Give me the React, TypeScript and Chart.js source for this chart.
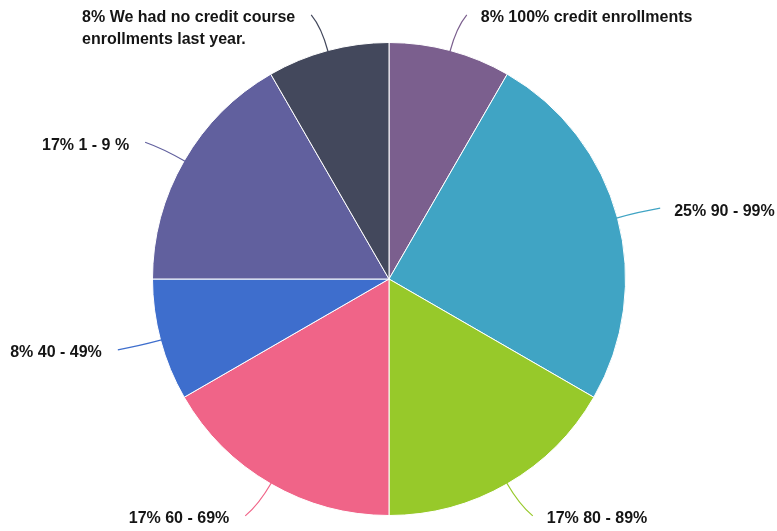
import React, { useEffect, useRef } from "react";
import { Chart, registerables } from "chart.js";

Chart.register(...registerables);

const categories = [
  "100% credit enrollments",
  "90 - 99%",
  "80 - 89%",
  "60 - 69%",
  "40 - 49%",
  "1 - 9 %",
  "We had no credit course enrollments last year.",
];
const counts = [1, 3, 2, 2, 1, 2, 1];
const colors = ["#7B5F8E", "#40A4C4", "#97C92A", "#F06488", "#3E6ECD", "#61609E", "#43485C"];

const FONT = "bold 16px 'Liberation Sans', Arial, sans-serif";
const WRAP_WIDTH = 230;
const LINE_HEIGHT = 22;

function wrap(ctx: CanvasRenderingContext2D, text: string, maxW: number): string[] {
  const words = text.split(" ");
  const lines: string[] = [];
  let cur = "";
  for (const w of words) {
    const test = cur ? cur + " " + w : w;
    if (ctx.measureText(test).width > maxW && cur) {
      lines.push(cur);
      cur = w;
    } else cur = test;
  }
  if (cur) lines.push(cur);
  return lines;
}

const calloutPlugin = {
  id: "callouts",
  afterDraw(chart: any) {
    const ctx: CanvasRenderingContext2D = chart.ctx;
    const meta = chart.getDatasetMeta(0);
    const data: number[] = chart.data.datasets[0].data;
    const total = data.reduce((a, b) => a + b, 0);
    ctx.save();
    ctx.font = FONT;
    meta.data.forEach((arc: any, i: number) => {
      const { x, y, startAngle, endAngle, outerRadius } = arc.getProps(
        ["x", "y", "startAngle", "endAngle", "outerRadius"],
        true
      );
      const mid = (startAngle + endAngle) / 2;
      const ux = Math.cos(mid);
      const uy = Math.sin(mid);
      const side = ux >= 0 ? 1 : -1;
      const sx = x + ux * (outerRadius - 1);
      const sy = y + uy * (outerRadius - 1);
      const cx = x + ux * (outerRadius + 24);
      const cy = y + uy * (outerRadius + 24);
      const ex = x + ux * (outerRadius + 37) + side * 7;
      const ey = y + uy * (outerRadius + 37);
      ctx.strokeStyle = colors[i];
      ctx.lineWidth = 1.2;
      ctx.beginPath();
      ctx.moveTo(sx, sy);
      ctx.quadraticCurveTo(cx, cy, ex, ey);
      ctx.stroke();

      const pct = Math.round((data[i] / total) * 100);
      const text = pct + "% " + chart.data.labels[i];
      const lines = wrap(ctx, text, WRAP_WIDTH);
      const maxW = Math.max(...lines.map((l) => ctx.measureText(l).width));
      const left = side > 0 ? ex + 14 : ex - 16 - maxW;
      ctx.fillStyle = "#151515";
      ctx.textAlign = "left";
      ctx.textBaseline = "middle";
      lines.forEach((l, k) => {
        ctx.fillText(l, left, ey + 3 + k * LINE_HEIGHT);
      });
    });
    ctx.restore();
  },
};

export default function App() {
  const ref = useRef<HTMLCanvasElement>(null);
  useEffect(() => {
    document.body.style.margin = "0";
    const chart = new Chart(ref.current!, {
      type: "pie",
      data: {
        labels: categories,
        datasets: [
          {
            data: counts,
            backgroundColor: colors,
            borderColor: "#ffffff",
            borderWidth: 1,
          },
        ],
      },
      options: {
        animation: false,
        responsive: false,
        maintainAspectRatio: false,
        layout: { padding: { left: 152, right: 151, top: 42, bottom: 15 } },
        plugins: { legend: { display: false }, tooltip: { enabled: false } },
      },
      plugins: [calloutPlugin],
    });
    return () => chart.destroy();
  }, []);
  return (
    <div style={{ width: 777, height: 531 }}>
      <canvas ref={ref} width={777} height={531} style={{ width: 777, height: 531 }} />
    </div>
  );
}
